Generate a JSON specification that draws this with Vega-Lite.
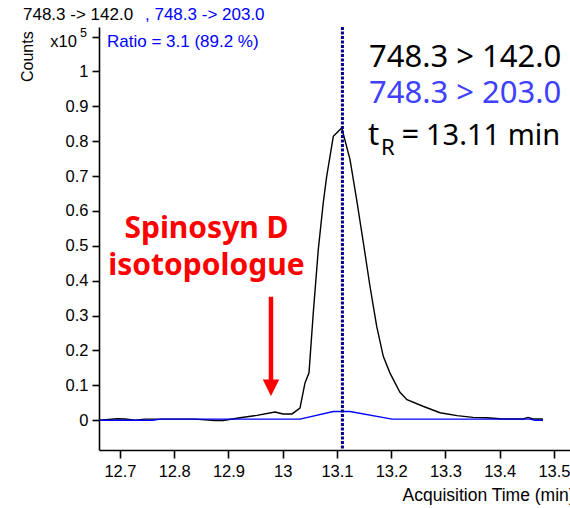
{
  "$schema": "https://vega.github.io/schema/vega-lite/v6.json",
  "width": 471,
  "height": 423,
  "autosize": {"type": "none"},
  "padding": {"left": 99, "top": 27, "right": 0, "bottom": 58},
  "background": "white",
  "config": {
    "view": {"stroke": null},
    "axis": {
      "grid": false,
      "domainColor": "black", "domainWidth": 1.6,
      "tickColor": "black", "tickWidth": 1.6,
      "labelFont": "Liberation Sans", "labelFontSize": 16.5, "labelColor": "black",
      "titleFont": "Liberation Sans", "titleFontWeight": "normal", "titleColor": "black",
      "labelOverlap": false
    },
    "axisX": {
      "tickSize": 8, "labelPadding": 5, "titleFontSize": 17.5,
      "titleAlign": "left", "titleBaseline": "alphabetic", "titleX": 303, "titleY": 50
    },
    "axisY": {
      "tickSize": 7, "labelPadding": 4, "tickCount": 12
    }
  },
  "data": {"values": [{}]},
  "datasets": {
    "traces": [
      {"t": 12.6631, "v": 0.000, "s": "748.3 -> 142.0"},
      {"t": 12.6945, "v": 0.004, "s": "748.3 -> 142.0"},
      {"t": 12.7092, "v": 0.0035, "s": "748.3 -> 142.0"},
      {"t": 12.7276, "v": 0.000, "s": "748.3 -> 142.0"},
      {"t": 12.7461, "v": 0.003, "s": "748.3 -> 142.0"},
      {"t": 12.7682, "v": 0.003, "s": "748.3 -> 142.0"},
      {"t": 12.8014, "v": 0.003, "s": "748.3 -> 142.0"},
      {"t": 12.8382, "v": 0.003, "s": "748.3 -> 142.0"},
      {"t": 12.8751, "v": -0.001, "s": "748.3 -> 142.0"},
      {"t": 12.8899, "v": -0.001, "s": "748.3 -> 142.0"},
      {"t": 12.9212, "v": 0.007, "s": "748.3 -> 142.0"},
      {"t": 12.9525, "v": 0.014, "s": "748.3 -> 142.0"},
      {"t": 12.9857, "v": 0.0235, "s": "748.3 -> 142.0"},
      {"t": 13.0005, "v": 0.018, "s": "748.3 -> 142.0"},
      {"t": 13.0171, "v": 0.018, "s": "748.3 -> 142.0"},
      {"t": 13.0318, "v": 0.035, "s": "748.3 -> 142.0"},
      {"t": 13.0410, "v": 0.107, "s": "748.3 -> 142.0"},
      {"t": 13.0484, "v": 0.136, "s": "748.3 -> 142.0"},
      {"t": 13.0563, "v": 0.308, "s": "748.3 -> 142.0"},
      {"t": 13.0655, "v": 0.489, "s": "748.3 -> 142.0"},
      {"t": 13.0747, "v": 0.624, "s": "748.3 -> 142.0"},
      {"t": 13.0810, "v": 0.699, "s": "748.3 -> 142.0"},
      {"t": 13.0932, "v": 0.814, "s": "748.3 -> 142.0"},
      {"t": 13.1087, "v": 0.838, "s": "748.3 -> 142.0"},
      {"t": 13.1240, "v": 0.747, "s": "748.3 -> 142.0"},
      {"t": 13.1363, "v": 0.632, "s": "748.3 -> 142.0"},
      {"t": 13.1485, "v": 0.510, "s": "748.3 -> 142.0"},
      {"t": 13.1608, "v": 0.384, "s": "748.3 -> 142.0"},
      {"t": 13.1732, "v": 0.269, "s": "748.3 -> 142.0"},
      {"t": 13.1853, "v": 0.183, "s": "748.3 -> 142.0"},
      {"t": 13.1977, "v": 0.135, "s": "748.3 -> 142.0"},
      {"t": 13.2161, "v": 0.080, "s": "748.3 -> 142.0"},
      {"t": 13.2290, "v": 0.059, "s": "748.3 -> 142.0"},
      {"t": 13.2585, "v": 0.040, "s": "748.3 -> 142.0"},
      {"t": 13.2899, "v": 0.0215, "s": "748.3 -> 142.0"},
      {"t": 13.3212, "v": 0.013, "s": "748.3 -> 142.0"},
      {"t": 13.3507, "v": 0.008, "s": "748.3 -> 142.0"},
      {"t": 13.3765, "v": 0.007, "s": "748.3 -> 142.0"},
      {"t": 13.4060, "v": 0.0035, "s": "748.3 -> 142.0"},
      {"t": 13.4429, "v": 0.0035, "s": "748.3 -> 142.0"},
      {"t": 13.4521, "v": 0.008, "s": "748.3 -> 142.0"},
      {"t": 13.4613, "v": 0.0035, "s": "748.3 -> 142.0"},
      {"t": 13.4797, "v": 0.0035, "s": "748.3 -> 142.0"},
      {"t": 12.6631, "v": 0.000, "s": "748.3 -> 203.0"},
      {"t": 12.7600, "v": 0.000, "s": "748.3 -> 203.0"},
      {"t": 12.7750, "v": 0.003, "s": "748.3 -> 203.0"},
      {"t": 13.0318, "v": 0.003, "s": "748.3 -> 203.0"},
      {"t": 13.0932, "v": 0.025, "s": "748.3 -> 203.0"},
      {"t": 13.1240, "v": 0.025, "s": "748.3 -> 203.0"},
      {"t": 13.2014, "v": 0.003, "s": "748.3 -> 203.0"},
      {"t": 13.4558, "v": 0.003, "s": "748.3 -> 203.0"},
      {"t": 13.4650, "v": 0.000, "s": "748.3 -> 203.0"},
      {"t": 13.4797, "v": 0.000, "s": "748.3 -> 203.0"}
    ]
  },
  "layer": [
    {
      "data": {"name": "traces"},
      "mark": {"type": "line", "strokeWidth": 1.4, "interpolate": "linear"},
      "encoding": {
        "x": {
          "field": "t", "type": "quantitative",
          "scale": {"domain": [12.6613, 13.5295], "nice": false, "zero": false},
          "axis": {
            "values": [12.7, 12.8, 12.9, 13.0, 13.1, 13.2, 13.3, 13.4, 13.5],
            "labelExpr": "format(datum.value, '~g')",
            "title": "Acquisition Time (min)"
          }
        },
        "y": {
          "field": "v", "type": "quantitative",
          "scale": {"domain": [-0.0854, 1.1273], "nice": false, "zero": false},
          "axis": {
            "values": [0, 0.1, 0.2, 0.3, 0.4, 0.5, 0.6, 0.7, 0.8, 0.9, 1.0, 1.1],
            "labelExpr": "datum.value > 1.05 ? '' : format(datum.value, '~g')",
            "title": null
          }
        },
        "color": {
          "field": "s", "type": "nominal",
          "scale": {"domain": ["748.3 -> 142.0", "748.3 -> 203.0"], "range": ["#000000", "#0000ff"]},
          "legend": null
        },
        "order": {"field": "t", "type": "quantitative"}
      }
    },
    {
      "mark": {"type": "rule", "color": "#00008b", "strokeWidth": 3, "strokeDash": [3, 1.5]},
      "encoding": {"x": {"datum": 13.11, "type": "quantitative"}}
    },
    {
      "mark": {"type": "rule", "color": "#ff0000", "strokeWidth": 4.5},
      "encoding": {"x": {"datum": 12.9783, "type": "quantitative"}, "y": {"datum": 0.354, "type": "quantitative"}, "y2": {"datum": 0.108}}
    },
    {
      "mark": {"type": "point", "shape": "M-1,-1L1,-1L0,1Z", "filled": true, "color": "#ff0000", "opacity": 1, "size": 272, "strokeWidth": 0},
      "encoding": {"x": {"datum": 12.9783, "type": "quantitative"}, "y": {"datum": 0.0932, "type": "quantitative"}}
    },
    {
      "mark": {"type": "text", "text": "Counts", "angle": 270, "align": "center", "baseline": "alphabetic", "font": "Liberation Sans", "fontSize": 16, "color": "black"},
      "encoding": {"x": {"datum": 12.5396, "type": "quantitative"}, "y": {"datum": 1.0422, "type": "quantitative"}}
    },
    {
      "mark": {"type": "text", "text": "748.3 -> 142.0", "align": "left", "baseline": "alphabetic", "font": "Liberation Sans", "fontSize": 17, "color": "black"},
      "encoding": {"x": {"datum": 12.5212, "type": "quantitative"}, "y": {"datum": 1.1482, "type": "quantitative"}}
    },
    {
      "mark": {"type": "text", "text": ", 748.3 -> 203.0", "align": "left", "baseline": "alphabetic", "font": "Liberation Sans", "fontSize": 17, "color": "#0000ff"},
      "encoding": {"x": {"datum": 12.7461, "type": "quantitative"}, "y": {"datum": 1.1482, "type": "quantitative"}}
    },
    {
      "mark": {"type": "text", "text": "Ratio = 3.1 (89.2 %)", "align": "left", "baseline": "alphabetic", "font": "Liberation Sans", "fontSize": 17, "color": "#0000ff"},
      "encoding": {"x": {"datum": 12.676, "type": "quantitative"}, "y": {"datum": 1.070, "type": "quantitative"}}
    },
    {
      "mark": {"type": "text", "text": "x10", "align": "right", "baseline": "alphabetic", "font": "Liberation Sans", "fontSize": 16.5, "color": "black"},
      "encoding": {"x": {"datum": 12.6207, "type": "quantitative"}, "y": {"datum": 1.070, "type": "quantitative"}}
    },
    {
      "mark": {"type": "text", "text": "5", "align": "left", "baseline": "alphabetic", "font": "Liberation Sans", "fontSize": 12.5, "color": "black"},
      "encoding": {"x": {"datum": 12.6263, "type": "quantitative"}, "y": {"datum": 1.0995, "type": "quantitative"}}
    },
    {
      "mark": {"type": "text", "text": "748.3 > 142.0", "align": "left", "baseline": "alphabetic", "font": "Noto Sans", "fontSize": 31, "color": "black"},
      "encoding": {"x": {"datum": 13.159, "type": "quantitative"}, "y": {"datum": 1.0135, "type": "quantitative"}}
    },
    {
      "mark": {"type": "text", "text": "748.3 > 203.0", "align": "left", "baseline": "alphabetic", "font": "Noto Sans", "fontSize": 31, "color": "#4040ff"},
      "encoding": {"x": {"datum": 13.159, "type": "quantitative"}, "y": {"datum": 0.910, "type": "quantitative"}}
    },
    {
      "mark": {"type": "text", "text": "t", "align": "left", "baseline": "alphabetic", "font": "Noto Sans", "fontSize": 31, "color": "black"},
      "encoding": {"x": {"datum": 13.1571, "type": "quantitative"}, "y": {"datum": 0.790, "type": "quantitative"}}
    },
    {
      "mark": {"type": "text", "text": "R", "align": "left", "baseline": "alphabetic", "font": "Noto Sans", "fontSize": 22, "color": "black"},
      "encoding": {"x": {"datum": 13.1811, "type": "quantitative"}, "y": {"datum": 0.761, "type": "quantitative"}}
    },
    {
      "mark": {"type": "text", "text": "=", "align": "left", "baseline": "alphabetic", "font": "Noto Sans", "fontSize": 31, "color": "black"},
      "encoding": {"x": {"datum": 13.2189, "type": "quantitative"}, "y": {"datum": 0.790, "type": "quantitative"}}
    },
    {
      "mark": {"type": "text", "text": "13.11 min", "align": "left", "baseline": "alphabetic", "font": "Noto Sans", "fontSize": 29, "color": "black"},
      "encoding": {"x": {"datum": 13.2641, "type": "quantitative"}, "y": {"datum": 0.790, "type": "quantitative"}}
    },
    {
      "mark": {"type": "text", "text": "Spinosyn D", "align": "center", "baseline": "alphabetic", "font": "Noto Sans", "fontWeight": "bold", "fontSize": 30, "color": "#ff0000"},
      "encoding": {"x": {"datum": 12.8594, "type": "quantitative"}, "y": {"datum": 0.523, "type": "quantitative"}}
    },
    {
      "mark": {"type": "text", "text": "isotopologue", "align": "center", "baseline": "alphabetic", "font": "Noto Sans", "fontWeight": "bold", "fontSize": 30, "color": "#ff0000"},
      "encoding": {"x": {"datum": 12.8594, "type": "quantitative"}, "y": {"datum": 0.417, "type": "quantitative"}}
    }
  ]
}
